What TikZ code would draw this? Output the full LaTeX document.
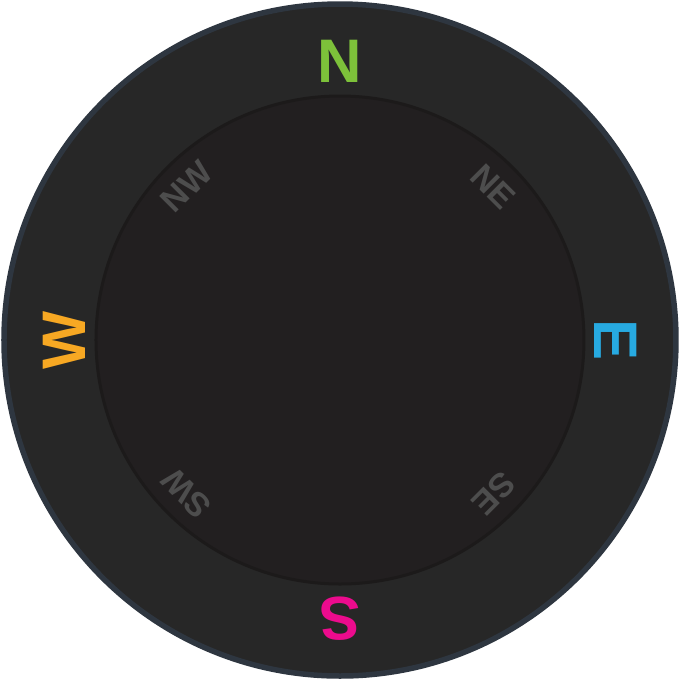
\documentclass[tikz,border=0pt]{standalone}
\usepackage{fontspec}
\setmainfont{Liberation Sans}
\usepackage{xcolor}
\usepackage{tikz}
\usetikzlibrary{positioning,calc}
\definecolor{dialrim}{HTML}{2E3640}
\definecolor{dialring}{HTML}{272727}
\definecolor{dialface}{HTML}{221F20}
\definecolor{faceedge}{HTML}{1C1A1A}
\definecolor{minorgray}{HTML}{4D4D4D}
\definecolor{northgreen}{HTML}{7DC13A}
\definecolor{eastblue}{HTML}{27AAE1}
\definecolor{southpink}{HTML}{EC0B8D}
\definecolor{westamber}{HTML}{F7A823}

\begin{document}
\begin{tikzpicture}[
 cardinal/.style={font=\fontsize{17.5}{17.5}\selectfont\bfseries,inner sep=0pt,anchor=center},
 intercard/.style={font=\fontsize{9.6}{9.6}\selectfont\bfseries,text=minorgray,inner sep=0pt,anchor=center}]
\useasboundingbox (-3.4,-3.4) rectangle (3.4,3.4);
\node[circle,minimum size=6.72cm,inner sep=0pt,draw=dialrim,line width=0.55mm,fill=dialring] (ring) at (0,0) {};
\node[circle,minimum size=4.88cm,inner sep=0pt,draw=faceedge,line width=0.3mm,fill=dialface] (face) at (0,0) {};
% main points
\node[cardinal,text=northgreen] (north) at (90:2.79) {N};
\node[cardinal,text=eastblue,rotate=-90] (east) at (0:2.76) {E};
\node[cardinal,text=southpink,rotate=180] (south) at (270:2.79) {S};
\node[cardinal,text=westamber,rotate=90] (west) at (180:2.76) {W};
% in-between points
\node[intercard,rotate=-45] (northeast) at (45:2.17) {NE};
\node[intercard,rotate=-135] (southeast) at (-45:2.17) {SE};
\node[intercard,rotate=135] (southwest) at (-135:2.17) {SW};
\node[intercard,rotate=45] (northwest) at (135:2.17) {NW};
\end{tikzpicture}
\end{document}
